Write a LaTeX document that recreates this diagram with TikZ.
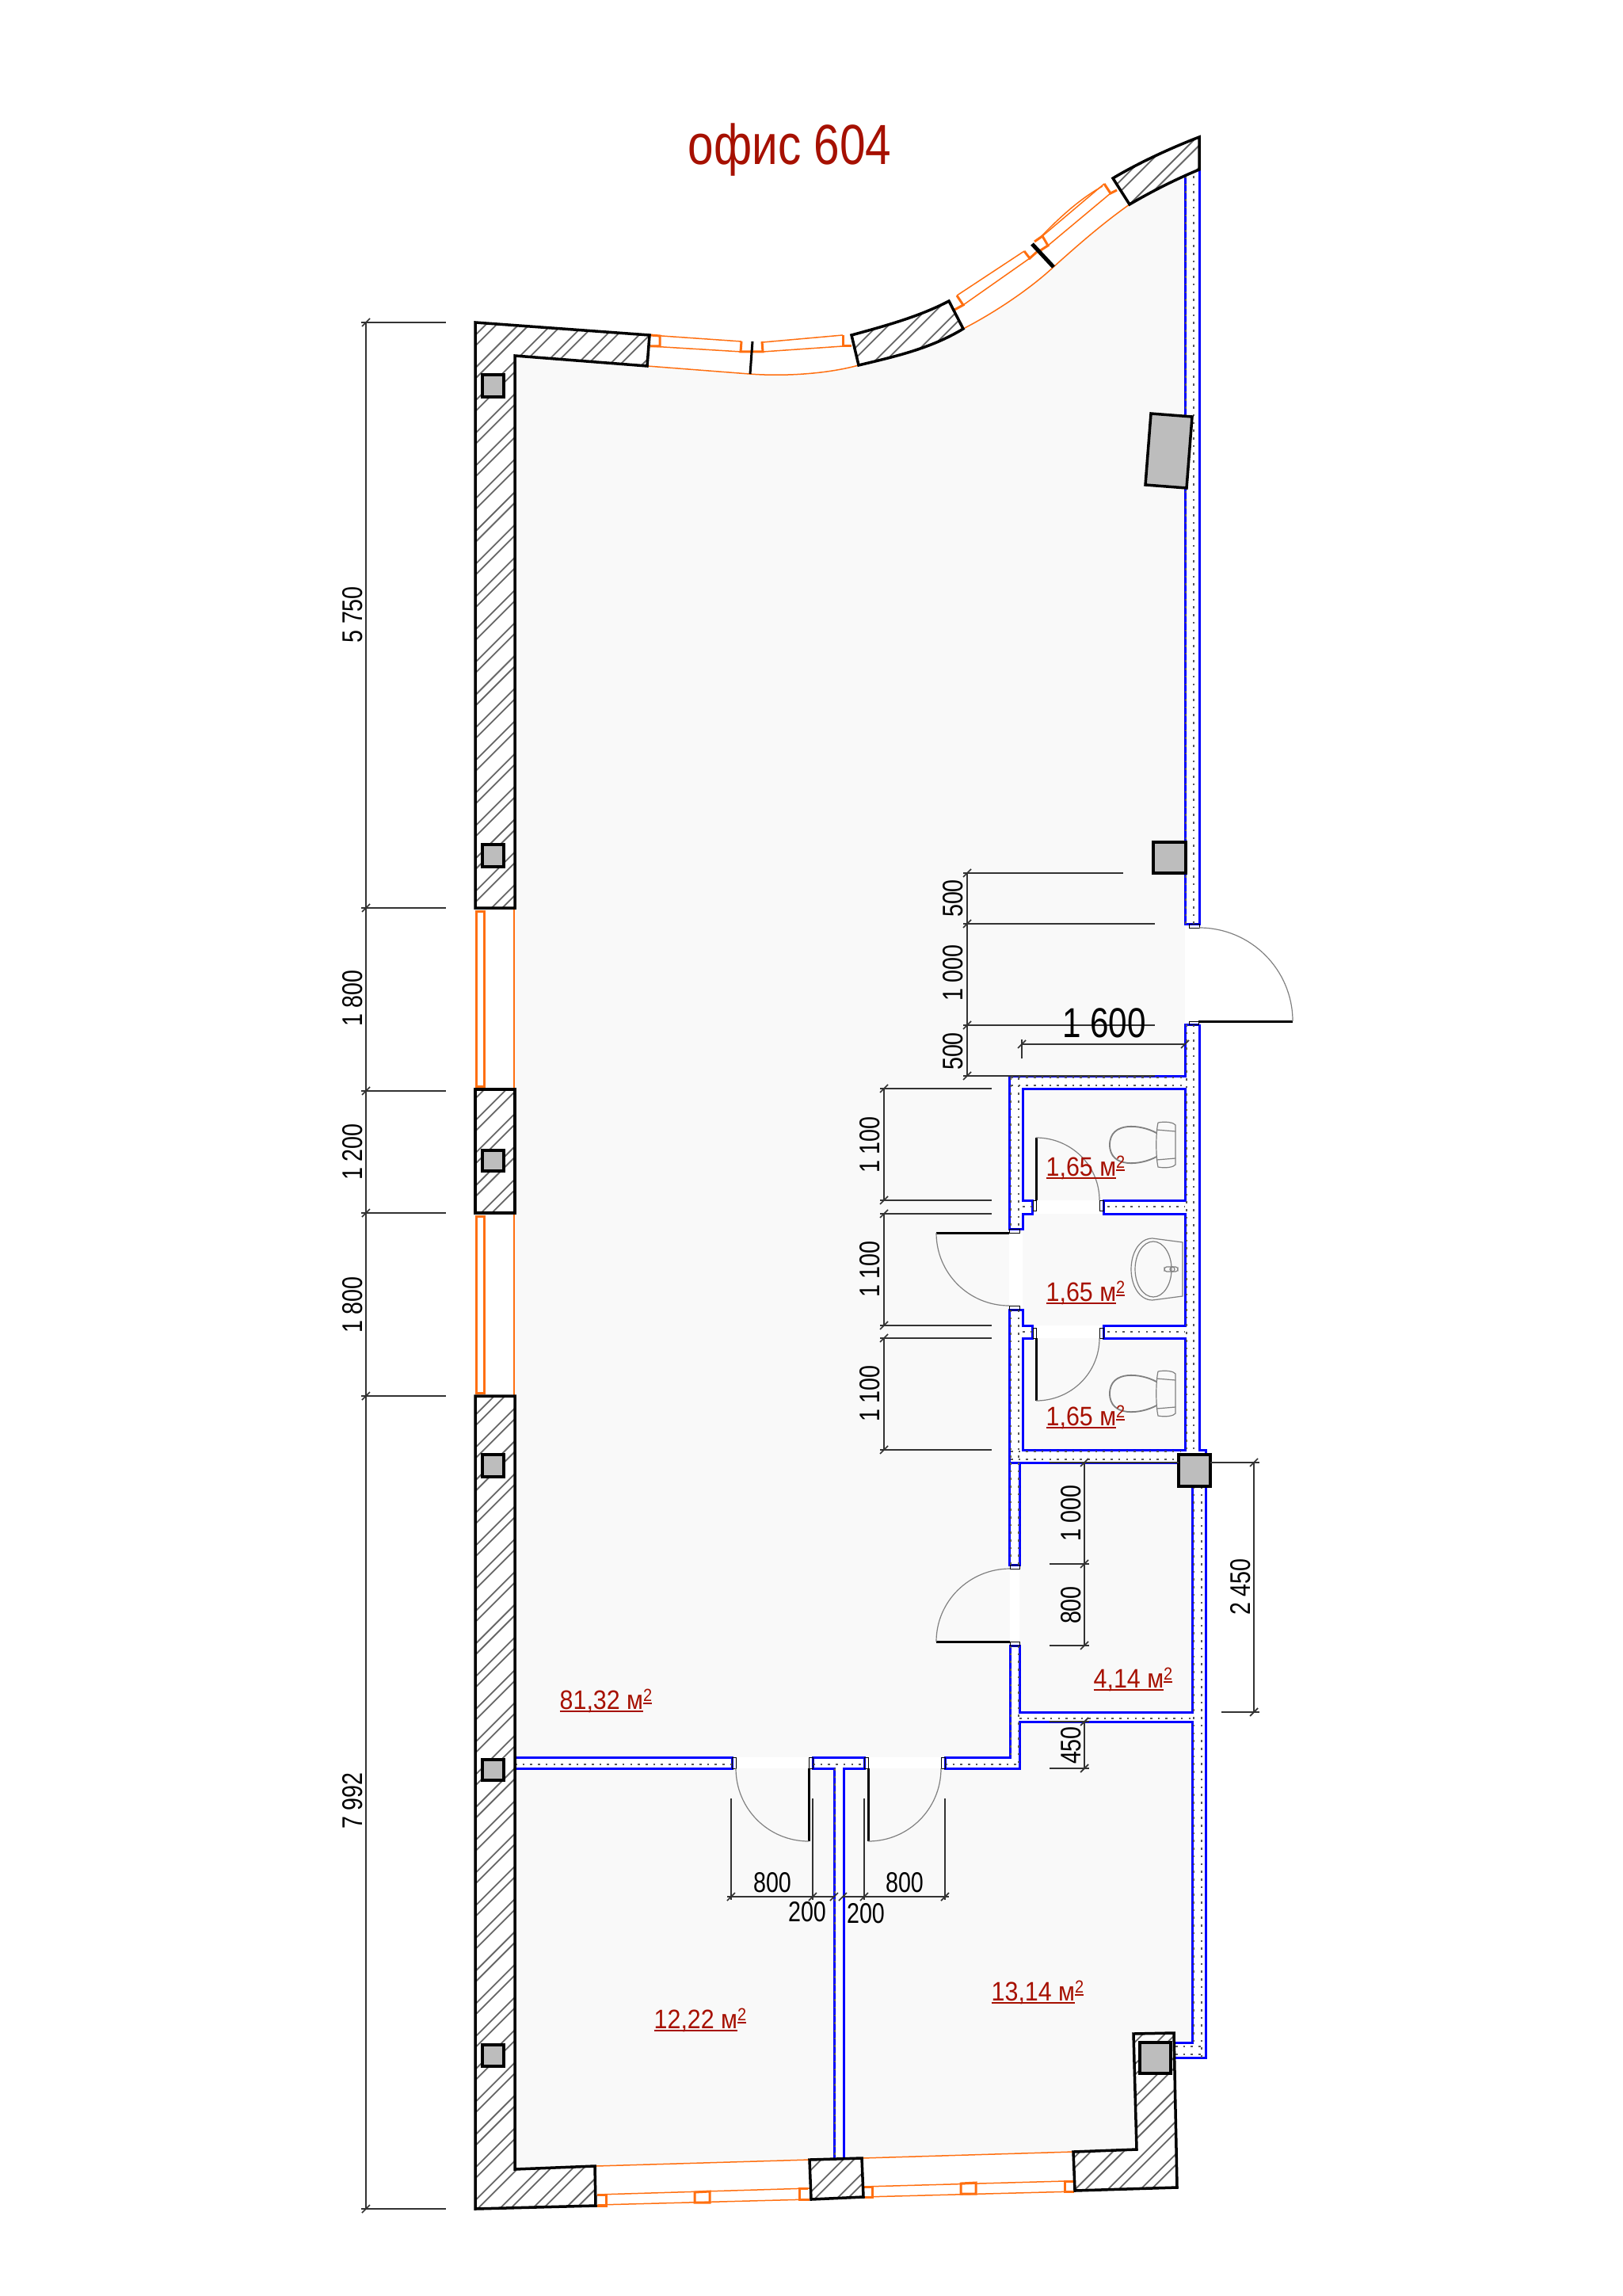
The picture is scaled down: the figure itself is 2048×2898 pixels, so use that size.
\documentclass[tikz,border=0pt]{standalone}
\usepackage{fontspec}
\setmainfont{Liberation Sans}
\newfontfamily\dimfont[FakeStretch=0.8]{Liberation Sans}
\newfontfamily\areafont[FakeStretch=0.9]{Liberation Sans}
\newfontfamily\titlefont[FakeStretch=0.82]{Liberation Sans}
\newcommand\unit{0.2845pt}
\definecolor{floorgrey}{HTML}{F9F9F9}
\definecolor{columngrey}{HTML}{BDBDBD}
\definecolor{hatchgrey}{HTML}{666666}
\definecolor{glassorange}{HTML}{FF6F10}
\definecolor{labelred}{HTML}{A61000}
\tikzset{wall/.style={draw=black,line width=3.5*\unit,line join=miter},
  hatchline/.style={draw=hatchgrey,line width=1.8*\unit},
  bluewall/.style={draw=blue,line width=3*\unit},
  walldots/.style={draw=black!65,line width=2.6*\unit,dash pattern=on 2.6*\unit off 7.1*\unit},
  glass/.style={draw=glassorange,line width=1.5*\unit},
  glassframe/.style={draw=glassorange,line width=3*\unit},
  jamb/.style={draw=black,line width=1*\unit},
  leaf/.style={draw=black,line width=3*\unit},
  swing/.style={draw=gray,line width=1.2*\unit},
  fixture/.style={draw=gray,line width=1.2*\unit},
  column/.style={draw=black,fill=columngrey,line width=3.5*\unit},
  dimline/.style={draw=black!80,line width=1.7*\unit},
  dimlabel/.style={font=\dimfont\fontsize{10.2}{12}\selectfont,inner sep=0pt,text=black},
  arealabel/.style={font=\areafont\fontsize{9.6}{12}\selectfont,inner sep=0pt,text=labelred,anchor=base west}}
\newcommand\hatched[1]{\fill[white] #1 -- cycle;
  \begin{scope}\clip #1 -- cycle;
  \foreach \h in {399.3,440.6,...,4600}{\draw[hatchline] (500,\h) -- ++(1300,-1300); \draw[hatchline] (500,\h+13.5) -- ++(1300,-1300);}
  \end{scope}
  \draw[wall] #1 -- cycle;}
\newcommand\dimtick[2]{\draw[dimline] (#1-5,#2+5) -- (#1+5,#2-5);}
\newcommand\lined[1]{\setbox0\hbox{#1}\rlap{\rule[-1.05pt]{\wd0}{0.62pt}}\box0}
\newcommand\areatext[1]{\lined{#1 м}\raisebox{2.8pt}{\fontsize{6.3}{7}\selectfont\lined{2}}}
\newcommand\wcbowl[2]{\begin{scope}[shift={(#1,#2)}]
  \draw[fixture,line width=1.8*\unit] (28,-15) .. controls (8,-26) and (-31,-30) .. (-31,0) .. controls (-31,30) and (8,26) .. (28,15);
  \draw[fixture] (30,-28) .. controls (40,-30) and (50,-28) .. (52,-25) -- (52,25) .. controls (50,28) and (40,30) .. (30,28) .. controls (27,15) and (27,-15) .. (30,-28);
  \draw[fixture] (28,-19) -- (52,-17) (28,19) -- (52,17);
  \end{scope}}

\begin{document}
\begin{tikzpicture}[x=0.01cm,y=-0.01cm]
\useasboundingbox (0,0) rectangle (2048,2898);

\fill[floorgrey] (650,449) -- (817,462) -- (946,472) .. controls (985,475) and (1040,473) .. (1084,461)
  -- (1216,415) .. controls (1255,395) and (1300,365) .. (1330,337) .. controls (1360,310) and (1392,282) .. (1426,258)
  -- (1496,222) -- (1496,1358) -- (1505,1846) -- (1505,2578) -- (1482,2578) -- (1482,2714) -- (1355,2716)
  -- (1022,2726) -- (752,2734) -- (650,2738) -- cycle;

\foreach \xa/\ya/\xb/\yb in {1496/1166/1514/1289,1496/1293/1514/1836,1496/214/1514/1166,1274/1358/1496/1374,1274/1358/1291/1653,
  1291/1515/1496/1532,1274/1653/1291/1846,1291/1673/1496/1689,1274/1830/1496/1846,1275/1846/1287/2232,1287/2161/1505/2173,
  1193/2218/1275/2232,1026/2218/1091/2232,650/2218/924/2232,929/2218/1021/2232,1096/2218/1188/2232,1053/2232/1065/2725,
  1505/1836/1522/2597,1482/2578/1505/2597}
  \fill[white] (\xa,\ya) rectangle (\xb,\yb);

\draw[bluewall] (1496,222) -- (1496,1166) -- (1514,1166) -- (1514,214);
\draw[bluewall] (1514,1293) -- (1496,1293) -- (1496,1358) -- (1274,1358) -- (1274,1551) -- (1291,1551) -- (1291,1532) -- (1303,1532)
  -- (1303,1515) -- (1291,1515) -- (1291,1374) -- (1496,1374) -- (1496,1515) -- (1393,1515) -- (1393,1532) -- (1496,1532)
  -- (1496,1673) -- (1393,1673) -- (1393,1689) -- (1496,1689) -- (1496,1830) -- (1291,1830) -- (1291,1689) -- (1303,1689)
  -- (1303,1673) -- (1291,1673) -- (1291,1653) -- (1274,1653) -- (1274,1975) -- (1287,1975) -- (1287,1846);
\draw[bluewall] (1514,1293) -- (1514,1830) -- (1522,1830) -- (1522,1836);
\draw[bluewall] (1274,1846) -- (1488,1846);
\draw[bluewall] (1505,1876) -- (1505,2161) -- (1287,2161) -- (1287,2077) -- (1275,2077) -- (1275,2218) -- (1193,2218) -- (1193,2232)
  -- (1287,2232) -- (1287,2173) -- (1505,2173) -- (1505,2578) -- (1482,2578);
\draw[bluewall] (1522,1876) -- (1522,2597) -- (1482,2597);
\draw[bluewall] (1053,2725) -- (1053,2232) -- (1026,2232) -- (1026,2218) -- (1091,2218) -- (1091,2232) -- (1065,2232) -- (1065,2725);
\draw[bluewall] (650,2218) -- (924,2218) -- (924,2232) -- (650,2232);
\draw[bluewall] (1052,2774) -- (1065,2774);

\foreach \xa/\ya/\xb/\yb in {1497/222/1497/1166,1507/222/1507/1166,1498/1293/1498/1830,1507/1293/1507/1830,1276/1360/1496/1360,1276/1370/1496/1370,
  1276/1360/1276/1551,1286/1360/1286/1551,1291/1523/1303/1523,1398/1523/1496/1523,1276/1653/1276/1846,1286/1653/1286/1846,1291/1681/1303/1681,
  1398/1681/1496/1681,1276/1832/1490/1832,1276/1842/1490/1842,1276/1846/1276/1975,1286/1846/1286/1975,1276/2077/1276/2218,1286/2077/1286/2232,
  1507/1876/1507/2578,1517/1876/1517/2597,1287/2169/1505/2169,1193/2227/1287/2227,1026/2227/1091/2227,650/2227/924/2227,1054/2232/1054/2725,
  1484/2583/1517/2583,1484/2593/1517/2593}
  \draw[walldots] (\xa,\ya) -- (\xb,\yb);

\foreach \xa/\ya/\xb/\yb in {1501/1166/1514/1171,1501/1289/1513/1293,1274/1551/1287/1556,1274/1648/1287/1653,1304/1515/1308/1528,1388/1515/1393/1528,
  1304/1676/1308/1689,1388/1676/1393/1689,1275/1975/1287/1980,1275/2072/1287/2077,924/2218/929/2232,1021/2218/1026/2232,1091/2218/1096/2232,1188/2218/1193/2232}
  \draw[jamb] (\xa,\ya) rectangle (\xb,\yb);

\draw[leaf] (1513,1289) -- (1632,1289);
\draw[swing] (1514,1171) .. controls (1579,1171) and (1632,1224) .. (1632,1289);
\draw[leaf] (1182,1556) -- (1274,1556);
\draw[swing] (1182,1556) .. controls (1182,1607) and (1223,1648) .. (1274,1648);
\draw[leaf] (1308,1436) -- (1308,1515);
\draw[swing] (1308,1436) .. controls (1352,1436) and (1388,1471) .. (1388,1515);
\draw[leaf] (1308,1689) -- (1308,1768);
\draw[swing] (1308,1768) .. controls (1352,1768) and (1388,1733) .. (1388,1689);
\draw[leaf] (1182,2072) -- (1275,2072);
\draw[swing] (1275,1980) .. controls (1224,1980) and (1182,2021) .. (1182,2072);
\draw[leaf] (1021,2232) -- (1021,2324);
\draw[swing] (929,2232) .. controls (929,2283) and (970,2324) .. (1021,2324);
\draw[leaf] (1096,2232) -- (1096,2324);
\draw[swing] (1188,2232) .. controls (1188,2283) and (1147,2324) .. (1096,2324);

\draw[glass] (817,462) -- (946,472) .. controls (985,475) and (1040,473) .. (1084,461);
\draw[glass] (1216,415) .. controls (1255,395) and (1300,365) .. (1330,337) .. controls (1360,310) and (1392,282) .. (1426,258);
\draw[glass] (821,423) -- (936,431) (821,437) -- (936,444) (963,432) -- (1064,423) (963,444) -- (1064,437);
\draw[glass] (1208,373) -- (1293,317) (1216,385) -- (1300,326) (1316,298) -- (1394,232) (1323,310) -- (1402,244);
\draw[glass] (1313,300) .. controls (1340,272) and (1365,250) .. (1392,235);
\draw[glassframe] (821,423) -- (833,424) -- (833,437) -- (821,437);
\draw[glassframe] (936,431) -- (935,444) -- (963,444) -- (962,431);
\draw[glassframe] (1064,423) -- (1064,437) -- (1075,437);
\draw[glassframe] (1208,373) -- (1216,385) -- (1205,391);
\draw[glassframe] (1293,317) -- (1300,326) -- (1309,318);
\draw[glassframe] (1306,305) -- (1316,298) -- (1323,310) -- (1312,317);
\draw[glassframe] (1394,232) -- (1402,244) -- (1410,240);
\draw[black,line width=3*\unit] (950,431) -- (947,472);
\draw[black,line width=5*\unit] (1303,308) -- (1330,337);

\draw[glassframe] (601,1150) rectangle (611,1371);
\draw[glassframe] (601,1535) rectangle (611,1758);
\draw[glass] (649,1146) -- (649,1375) (649,1531) -- (649,1762);

\draw[glass] (752,2734) -- (1022,2726) (1088,2724) -- (1355,2716);
\draw[glass] (754,2770) -- (1022,2762) (754,2783) -- (1022,2776) (1090,2760) -- (1344,2753) (1090,2773) -- (1358,2766);
\draw[glassframe] (754,2770) -- (765,2770) -- (765,2784) -- (754,2784);
\draw[glassframe] (877,2767) -- (896,2766) -- (896,2780) -- (877,2780) -- cycle;
\draw[glassframe] (1020,2762) -- (1009,2762) -- (1009,2776) -- (1022,2776);
\draw[glassframe] (1090,2760) -- (1101,2760) -- (1101,2773) -- (1090,2773);
\draw[glassframe] (1213,2756) -- (1232,2755) -- (1232,2769) -- (1213,2769) -- cycle;
\draw[glassframe] (1356,2753) -- (1344,2753) -- (1344,2766) -- (1356,2766);

\hatched{(600,407) -- (820,423) -- (817,462) -- (650,449) -- (650,1146) -- (600,1146)}
\hatched{(600,1375) -- (650,1375) -- (650,1531) -- (600,1531)}
\hatched{(600,1762) -- (650,1762) -- (650,2738) -- (751,2734) -- (752,2784) -- (600,2788)}
\hatched{(1075,423) .. controls (1115,412) and (1160,400) .. (1198,380) -- (1216,415) .. controls (1175,440) and (1130,450) .. (1084,461)}
\hatched{(1405,225) .. controls (1435,207) and (1475,188) .. (1514,173) -- (1514,214) .. controls (1485,226) and (1455,241) .. (1426,258)}
\hatched{(1022,2726) -- (1088,2724) -- (1090,2773) -- (1024,2776)}
\hatched{(1355,2716) -- (1435,2713) -- (1431,2567) -- (1482,2566) -- (1486,2761) -- (1357,2765)}

\foreach \y/\h in {473/28,1066/28,1452/26,1836/28,2221/26,2581/27}
  \draw[column] (609,\y) rectangle (636,\y+\h);
\draw[column] (1456,1063) rectangle (1497,1102);
\draw[column] (1488,1836) rectangle (1528,1876);
\draw[column] (1439,2578) rectangle (1478,2617);
\draw[column] (1453,522) -- (1505,526) -- (1498,616) -- (1446,612) -- cycle;

\wcbowl{1432}{1445}
\wcbowl{1432}{1759}
\draw[fixture] (1493,1568) -- (1455,1563) .. controls (1438,1563) and (1428,1582) .. (1428,1602)
  .. controls (1428,1622) and (1438,1641) .. (1455,1641) -- (1493,1636) -- cycle;
\draw[fixture] (1456,1602) ellipse (23 and 35);
\draw[fixture,rounded corners=3*\unit] (1470,1599) rectangle (1487,1605);
\draw[fixture] (1480,1602) circle (3);

\foreach \y in {407,1146,1377,1531,1762,2788}{\draw[dimline] (456,\y) -- (563,\y); \dimtick{462}{\y}}
\draw[dimline] (462,407) -- (462,2788);
\foreach \y/\e in {1102/1418,1166/1458,1294/1458,1358/1458}{\draw[dimline] (1216,\y) -- (\e,\y); \dimtick{1221}{\y}}
\draw[dimline] (1221,1102) -- (1221,1358);
\draw[dimline] (1290,1336) -- (1290,1312) (1290,1318) -- (1496,1318);
\dimtick{1290}{1318}
\dimtick{1496}{1318}
\foreach \y in {1374,1515,1532,1673,1689,1830}{\draw[dimline] (1111,\y) -- (1252,\y); \dimtick{1116}{\y}}
\draw[dimline] (1116,1374) -- (1116,1515) (1116,1532) -- (1116,1673) (1116,1689) -- (1116,1830);
\draw[dimline] (1325,1846) -- (1488,1846) (1325,1974) -- (1375,1974) (1325,2077) -- (1375,2077) (1325,2173) -- (1375,2173) (1325,2232) -- (1375,2232);
\draw[dimline] (1369,1846) -- (1369,2077) (1369,2173) -- (1369,2232);
\foreach \y in {1846,1974,2077,2173,2232}\dimtick{1369}{\y}
\draw[dimline] (1528,1846) -- (1590,1846) (1542,2161) -- (1590,2161) (1583,1846) -- (1583,2161);
\dimtick{1583}{1846}
\dimtick{1583}{2161}
\foreach \x in {923,1026,1091,1193}{\draw[dimline] (\x,2270) -- (\x,2398); \dimtick{\x}{2394}}
\draw[dimline] (918,2394) -- (1053,2394) (1064,2394) -- (1198,2394);
\dimtick{1053}{2394}
\dimtick{1064}{2394}

\node[font=\titlefont\fontsize{20.3}{24}\selectfont,text=labelred,inner sep=0pt,anchor=base] (title) at (997,208) {офис 604};
\node[dimlabel,rotate=90] (dimA) at (445,776) {5 750};
\node[dimlabel,rotate=90] (dimB) at (445,1260) {1 800};
\node[dimlabel,rotate=90] (dimC) at (445,1454) {1 200};
\node[dimlabel,rotate=90] (dimD) at (445,1647) {1 800};
\node[dimlabel,rotate=90] (dimE) at (445,2273) {7 992};
\node[dimlabel,rotate=90] (dimF) at (1203,1134) {500};
\node[dimlabel,rotate=90] (dimG) at (1203,1228) {1 000};
\node[dimlabel,rotate=90] (dimH) at (1203,1327) {500};
\node[dimlabel,font=\dimfont\fontsize{15}{18}\selectfont] (dimI) at (1394,1291) {1 600};
\node[dimlabel,rotate=90] (dimJ) at (1098,1445) {1 100};
\node[dimlabel,rotate=90] (dimK) at (1098,1602) {1 100};
\node[dimlabel,rotate=90] (dimL) at (1098,1759) {1 100};
\node[dimlabel,rotate=90] (dimM) at (1352,1910) {1 000};
\node[dimlabel,rotate=90] (dimN) at (1352,2026) {800};
\node[dimlabel,rotate=90] (dimO) at (1352,2203) {450};
\node[dimlabel,rotate=90] (dimP) at (1566,2003) {2 450};
\node[dimlabel] (dimQ) at (975,2376) {800};
\node[dimlabel] (dimR) at (1142,2376) {800};
\node[dimlabel] (dimS) at (1019,2413) {200};
\node[dimlabel] (dimT) at (1093,2415) {200};

\node[arealabel] (roomA) at (1320,1484) {\areatext{1,65}};
\node[arealabel] (roomB) at (1320,1642) {\areatext{1,65}};
\node[arealabel] (roomC) at (1320,1799) {\areatext{1,65}};
\node[arealabel] (roomD) at (1380,2130) {\areatext{4,14}};
\node[arealabel] (roomE) at (706,2157) {\areatext{81,32}};
\node[arealabel] (roomF) at (825,2560) {\areatext{12,22}};
\node[arealabel] (roomG) at (1251,2525) {\areatext{13,14}};
\end{tikzpicture}
\end{document}
